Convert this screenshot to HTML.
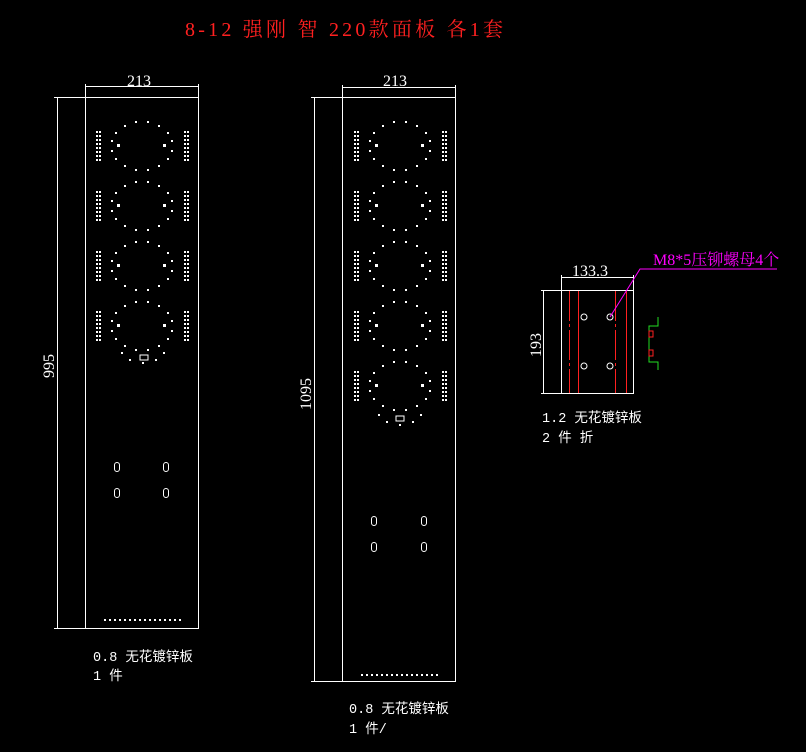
<!DOCTYPE html>
<html><head><meta charset="utf-8"><style>
html,body{margin:0;padding:0;background:#000;width:806px;height:752px;overflow:hidden}
svg{display:block}
text{font-family:"Liberation Serif","Noto Serif CJK SC","Noto Sans CJK SC",serif}
.w{fill:#fff;font-size:13.5px;font-family:"Liberation Mono","Noto Sans CJK SC",monospace}
</style></head><body>
<svg id="s" width="806" height="752" xmlns="http://www.w3.org/2000/svg">
<text x="185" y="36" fill="#ff2020" font-size="20" textLength="318" lengthAdjust="spacing">8-12 强刚 智 220款面板 各1套</text>
<g stroke="#fff" fill="none" stroke-width="1">
<rect x="85.5" y="97.5" width="113" height="531"/>
<line x1="85.5" y1="86.5" x2="198.5" y2="86.5"/>
<line x1="85.5" y1="84" x2="85.5" y2="97"/><line x1="198.5" y1="84" x2="198.5" y2="97"/>
<line x1="57.5" y1="97.5" x2="57.5" y2="628.5"/>
<line x1="54" y1="97.5" x2="85" y2="97.5"/><line x1="54" y1="628.5" x2="85" y2="628.5"/>
<rect x="342.5" y="97.5" width="113" height="584"/>
<line x1="342.5" y1="87.5" x2="455.5" y2="87.5"/>
<line x1="342.5" y1="85" x2="342.5" y2="97"/><line x1="455.5" y1="85" x2="455.5" y2="97"/>
<line x1="314.5" y1="97.5" x2="314.5" y2="681.5"/>
<line x1="311" y1="97.5" x2="342" y2="97.5"/><line x1="311" y1="681.5" x2="342" y2="681.5"/>
<rect x="561.5" y="290.5" width="72" height="103"/>
<line x1="561.5" y1="277.5" x2="633.5" y2="277.5"/>
<line x1="561.5" y1="275" x2="561.5" y2="290"/><line x1="633.5" y1="275" x2="633.5" y2="290"/>
<line x1="543.5" y1="290.5" x2="543.5" y2="393.5"/>
<line x1="541" y1="290.5" x2="561" y2="290.5"/><line x1="541" y1="393.5" x2="561" y2="393.5"/>
<rect x="140" y="355" width="8" height="5"/>
<rect x="396" y="416" width="8" height="5"/>
<circle cx="584" cy="317" r="3"/><circle cx="610" cy="317" r="3"/>
<circle cx="584" cy="366" r="3"/><circle cx="610" cy="366" r="3"/>
</g>
<g stroke="#ff2020" stroke-width="1">
<line x1="569.5" y1="291" x2="569.5" y2="393" stroke-dasharray="30 3 3 3"/>
<line x1="578.5" y1="291" x2="578.5" y2="393"/>
<line x1="615.5" y1="291" x2="615.5" y2="393" stroke-dasharray="30 3 3 3"/>
<line x1="626.5" y1="291" x2="626.5" y2="393"/>
</g>
<polyline points="658,317 658,326 649,326 649,362 658,362 658,370" stroke="#22dd22" fill="none"/>
<rect x="649" y="331" width="4" height="6" stroke="#ff2020" fill="none"/>
<rect x="649" y="350" width="4" height="6" stroke="#ff2020" fill="none"/>
<polyline points="610,317 640,269 777,269" stroke="#ff00ff" fill="none"/>
<text x="653" y="265" fill="#ff00ff" font-size="16">M8*5压铆螺母4个</text>
<g fill="#fff" font-size="16" font-family="Liberation Serif,serif">
<text x="127" y="86">213</text>
<text x="383" y="86">213</text>
<text x="572" y="276">133.3</text>
<text transform="translate(54,378) rotate(-90)">995</text>
<text transform="translate(311,410) rotate(-90)">1095</text>
<text transform="translate(541,357) rotate(-90)">193</text>
</g>
<text class="w" x="93" y="661">0.8 无花镀锌板</text>
<text class="w" x="93" y="680">1 件</text>
<text class="w" x="349" y="713">0.8 无花镀锌板</text>
<text class="w" x="349" y="733">1 件/</text>
<text class="w" x="542" y="422">1.2 无花镀锌板</text>
<text class="w" x="542" y="442">2 件 折</text>
<g id="d" fill="#fff"></g>
<g id="o" stroke="#fff" fill="none"></g>
</svg>
<script>
var d=document.getElementById('d'),o=document.getElementById('o'),h='',k='';
function r(x,y,w,hh){h+='<rect x="'+x+'" y="'+y+'" width="'+(w||2)+'" height="'+(hh||2)+'"/>';}
function group(cx,cy){
 for(var i=0;i<16;i++){var a=i/16*2*Math.PI+0.2;r(Math.round(cx+31*Math.cos(a)),Math.round(cy+24*Math.sin(a)));}
 r(cx-24,cy-1,3,3);r(cx+22,cy-1,3,3);
 for(var j=0;j<8;j++){var y=cy-14+j*4;r(cx-45,y);r(cx-42,y);r(cx+43,y);r(cx+46,y);}
}
[145,205,265,325].forEach(function(y){group(141,y)});
[145,205,265,325,385].forEach(function(y){group(399,y)});
[[142,352],[399,414]].forEach(function(p){for(var i=0;i<5;i++){var a=Math.PI*(0.15+0.7*i/4);r(Math.round(p[0]+24*Math.cos(a)),Math.round(p[1]-8+18*Math.sin(a)));}});
for(var x=104;x<182;x+=5)r(x,619,2,2);
for(var x=361;x<440;x+=5)r(x,674,2,2);
[[117,467],[166,467],[117,493],[166,493],[374,521],[424,521],[374,547],[424,547]].forEach(function(p){k+='<rect x="'+(p[0]-2.5)+'" y="'+(p[1]-4.5)+'" width="5" height="9" rx="2.5"/>';});
d.innerHTML=h;o.innerHTML=k;
</script>
</body></html>
